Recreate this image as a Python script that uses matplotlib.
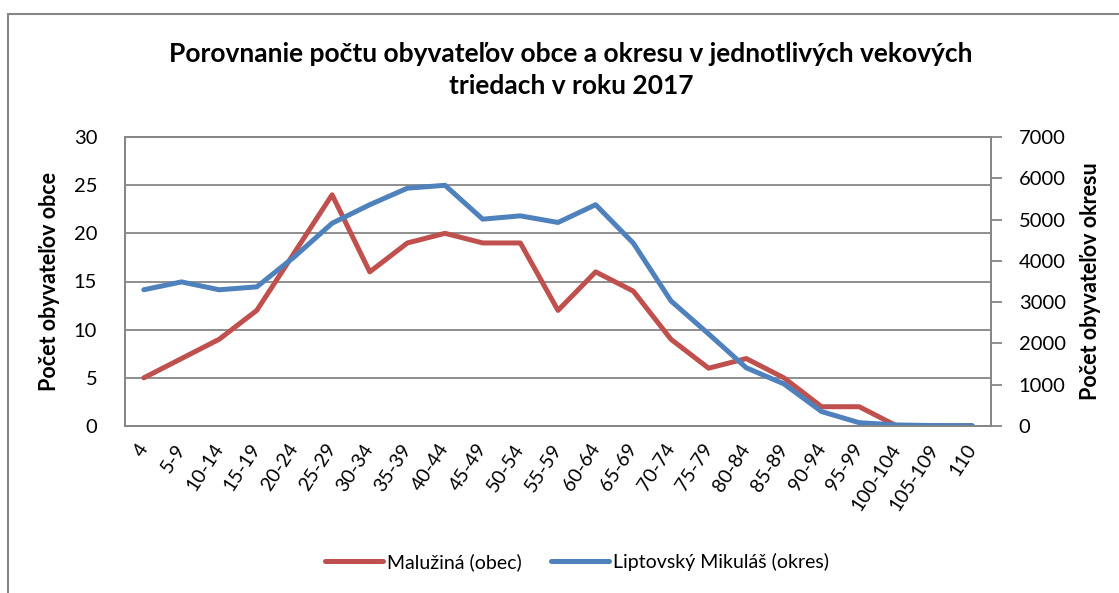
import matplotlib.pyplot as plt
from matplotlib.patches import Rectangle

plt.rcParams['font.family'] = ['Lato', 'DejaVu Sans']

# vekove skupiny
categories = ['4', '5-9', '10-14', '15-19', '20-24', '25-29', '30-34', '35-39',
              '40-44', '45-49', '50-54', '55-59', '60-64', '65-69', '70-74',
              '75-79', '80-84', '85-89', '90-94', '95-99', '100-104',
              '105-109', '110']
# pocet obyvatelov obce (lava os)
obec = [5, 7, 9, 12, 18, 24, 16, 19, 20, 19, 19, 12, 16, 14, 9, 6, 7, 5,
        2, 2, 0, 0, 0]
# pocet obyvatelov okresu (prava os)
okres = [3300, 3490, 3300, 3370, 4100, 4910, 5360, 5760, 5830, 5010, 5090,
         4930, 5360, 4430, 3030, 2230, 1410, 1020, 350, 80, 25, 10, 10]

title = 'Porovnanie počtu obyvateľov obce a okresu v jednotlivých vekových\ntriedach v roku 2017'
label_obec = 'Malužiná (obec)'
label_okres = 'Liptovský Mikuláš (okres)'

red = '#C0504D'
blue = '#4F81BD'
gray = '#868686'

fig = plt.figure(figsize=(11.19, 5.93), dpi=100)
# ramik grafu (siaha za pravy a spodny okraj)
fig.patches.append(Rectangle((8 / 1119, -0.1), 1.2, (593 - 14) / 593 + 0.1,
                             transform=fig.transFigure, fill=False,
                             edgecolor=gray, linewidth=1.5))

ax = fig.add_axes([125 / 1119, 167 / 593, 866 / 1119, 289 / 593])
x = list(range(len(categories)))
ax.plot(x, obec, color=red, linewidth=3.6, label=label_obec,
        solid_capstyle='round', solid_joinstyle='round')
ax.set_ylim(0, 30)
ax.set_yticks(range(0, 31, 5))
ax.set_xlim(-0.5, len(categories) - 0.5)
ax.set_xticks(x)
ax.set_xticklabels(categories, rotation=57, ha='right', va='center',
                   rotation_mode='anchor', fontsize=14)
ax.tick_params(axis='x', length=0, pad=14)
ax.tick_params(axis='y', length=0, pad=20, labelsize=14.5)
ax.grid(axis='y', color=gray, linewidth=1.3)
ax.set_axisbelow(True)
for s in ax.spines.values():
    s.set_color(gray)
    s.set_linewidth(1.3)
ax.set_ylabel('Počet obyvateľov obce', fontsize=15.5, fontweight='bold',
              labelpad=10)

ax2 = ax.twinx()
ax2.plot(x, okres, color=blue, linewidth=3.6, label=label_okres,
         solid_capstyle='round', solid_joinstyle='round')
ax2.set_ylim(0, 7000)
ax2.set_yticks(range(0, 7001, 1000))
ax2.tick_params(axis='y', length=8, width=1.3, color=gray, pad=12,
                labelsize=14.5)
for s in ax2.spines.values():
    s.set_color(gray)
    s.set_linewidth(1.3)
ax2.set_ylabel('Počet obyvateľov okresu', fontsize=15.5, fontweight='bold',
               labelpad=10)

fig.text(571 / 1119, 1 - 70 / 593, title, ha='center', va='center',
         fontsize=19, fontweight='bold', linespacing=1.45)

h1, l1 = ax.get_legend_handles_labels()
h2, l2 = ax2.get_legend_handles_labels()
fig.legend(h1 + h2, l1 + l2, loc='center', bbox_to_anchor=(577 / 1119, 1 - 562 / 593),
           ncol=2, frameon=False, fontsize=14, handlelength=3.0,
           handletextpad=0.2, columnspacing=1.5)

fig.savefig('out.png', dpi=100)
